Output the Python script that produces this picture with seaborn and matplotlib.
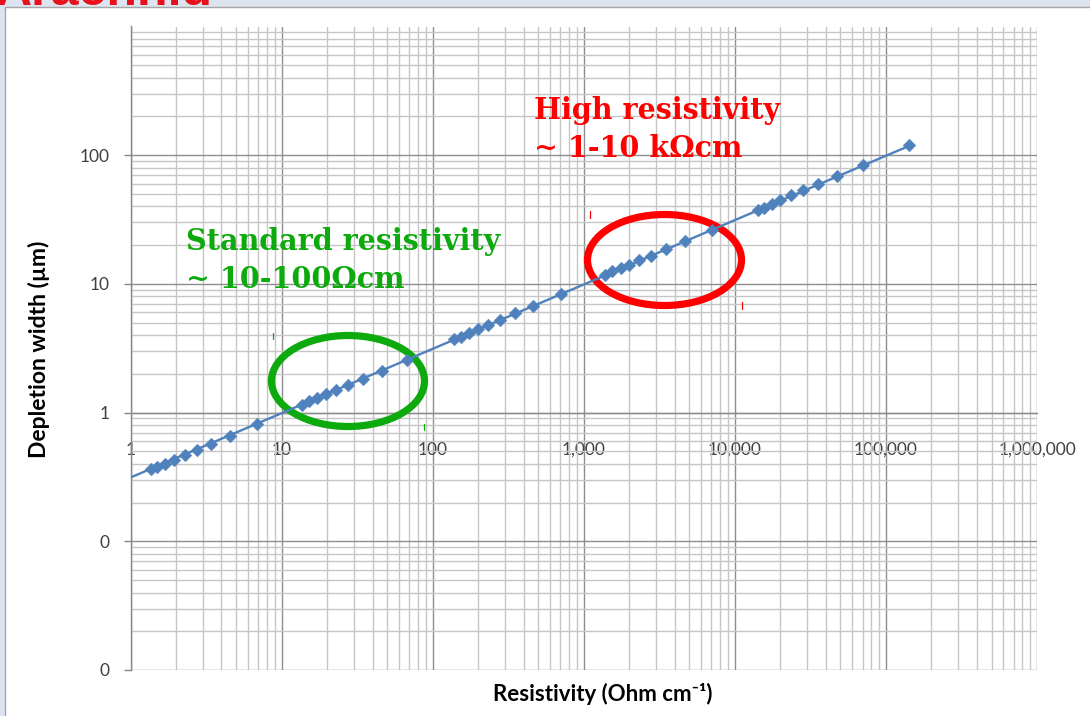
import numpy as np
import pandas as pd
import seaborn as sns
import matplotlib
matplotlib.use("Agg")
import matplotlib.pyplot as plt
from matplotlib.patches import Ellipse, Rectangle
from matplotlib.lines import Line2D
from matplotlib.ticker import FixedLocator, LogLocator, FuncFormatter, NullFormatter

# Resistivity (Ohm cm) and resulting depletion width (um)
resistivity = [1.36, 1.50, 1.69, 1.93, 2.28, 2.74, 3.39, 4.55, 6.83,
               13.7, 15.2, 17.2, 19.8, 22.9, 27.7, 34.7, 45.9, 67.3,
               138, 153, 174, 200, 232, 278, 349, 464, 704,
               1377, 1549, 1758, 2008, 2325, 2808, 3529, 4692, 7015,
               14130, 15630, 17500, 19960, 23490, 28080, 35300, 47140, 70800,
               142600]
depletion_um = [0.365, 0.381, 0.402, 0.432, 0.470, 0.508, 0.570, 0.661, 0.816,
                1.155, 1.225, 1.293, 1.39, 1.50, 1.63, 1.83, 2.12, 2.58,
                3.70, 3.87, 4.16, 4.43, 4.78, 5.23, 5.90, 6.77, 8.31,
                11.8, 12.5, 13.3, 14.1, 15.2, 16.6, 18.8, 21.7, 26.3,
                37.4, 39.0, 41.7, 45.1, 48.7, 53.3, 60.1, 68.9, 84.0,
                119.7]

# power-law trend line end points
trend_rho = [1, 142600]
trend_w = [0.313, 118.2]

x_ticks = [1, 10, 100, 1e3, 1e4, 1e5, 1e6]
y_ticks = [0.01, 0.1, 1, 10, 100]

df = pd.DataFrame({"rho": resistivity, "w": depletion_um})
trend = pd.DataFrame({"rho": trend_rho, "w": trend_w})

sns.set_theme(style="white")
plt.rcParams["font.family"] = ["Lato", "DejaVu Sans"]

W, H = 1090, 716
fig = plt.figure(figsize=(W / 100, H / 100), dpi=100)
fig.patch.set_facecolor("#DCE4F0")

def fx(px):
    return px / W

def fy(py):
    return (H - py) / H

# white slide panel
fig.add_artist(Rectangle((fx(5), -0.1), 1.2, fy(7) + 0.1, transform=fig.transFigure,
                         facecolor="white", edgecolor="#A6A6A6", lw=1.0, zorder=0))
# slide title, running off the top of the canvas
fig.text(fx(-4), fy(5), "Arachnid", color="#E8101A", fontsize=36, fontweight="bold",
         family=["Liberation Sans", "DejaVu Sans"], va="baseline", ha="left", zorder=1)

left, right, top, bottom = 130.5, 1037.0, 26.5, 670.0
ax = fig.add_axes([fx(left), fy(bottom), (right - left) / W, (bottom - top) / H])
ax.set_facecolor("none")
ax.set_xscale("log")
ax.set_yscale("log")
ax.set_xlim(1, 1e6)
ax.set_ylim(0.01, 1000)

blue = "#4F81BD"
sns.lineplot(data=trend, x="rho", y="w", ax=ax, color=blue, lw=1.7, zorder=4)
sns.scatterplot(data=df, x="rho", y="w", ax=ax, marker="D", s=42, color=blue,
                edgecolor=blue, linewidth=0.3, zorder=5)

fmt = FuncFormatter(lambda v, p: f"{v:,.0f}")
ax.xaxis.set_major_locator(FixedLocator(x_ticks))
ax.xaxis.set_minor_locator(LogLocator(base=10, subs=np.arange(2, 10), numticks=30))
ax.yaxis.set_major_locator(FixedLocator(y_ticks))
ax.yaxis.set_minor_locator(LogLocator(base=10, subs=np.arange(2, 10), numticks=30))
ax.xaxis.set_major_formatter(fmt)
ax.yaxis.set_major_formatter(fmt)
ax.xaxis.set_minor_formatter(NullFormatter())
ax.yaxis.set_minor_formatter(NullFormatter())

ax.set_axisbelow(True)
ax.grid(which="major", color="#8E8E8E", lw=1.0)
ax.grid(which="minor", color="#C6C6C6", lw=1.0)

for s in ("top", "right"):
    ax.spines[s].set_visible(False)
ax.spines["left"].set_color("#868686")
ax.spines["left"].set_linewidth(1.0)
ax.spines["bottom"].set_position(("data", 1))
ax.spines["bottom"].set_color("#8E8E8E")
ax.spines["bottom"].set_linewidth(1.0)

ax.tick_params(axis="y", which="major", direction="out", length=5, width=1,
               color="#868686", pad=10, labelsize=12.5, labelcolor="#404040", left=True)
ax.tick_params(axis="y", which="minor", length=0)
ax.tick_params(axis="x", which="both", length=0, pad=21, labelsize=12.5,
               labelcolor="#404040", bottom=True)

ax.set_xlabel("Resistivity (Ohm cm\u207b\u00b9)", fontsize=16, fontweight="bold",
              color="black")
ax.set_ylabel("Depletion width (\u00b5m)", fontsize=16.5, fontweight="bold", color="black")
ax.xaxis.label.set_va("center")
ax.yaxis.label.set_va("center")
ax.xaxis.set_label_coords((602.5 - left) / (right - left), (bottom - 694) / (bottom - top))
ax.yaxis.set_label_coords((39 - left) / (right - left), (bottom - 349) / (bottom - top))

# highlighted resistivity ranges
green = "#0CAA0C"
red = "#FF0000"
serif = ["DejaVu Serif"]
fsz = 20.6
fig.text(fx(186), fy(249.5), "Standard resistivity", color=green, fontsize=fsz,
         fontweight="bold", family=serif, va="baseline")
fig.text(fx(186), fy(288.3), "~ 10-100\u03a9cm", color=green, fontsize=fsz,
         fontweight="bold", family=serif, va="baseline")
fig.text(fx(534), fy(119.3), "High resistivity", color=red, fontsize=fsz,
         fontweight="bold", family=serif, va="baseline")
fig.text(fx(534), fy(156.7), "~ 1-10 k\u03a9cm", color=red, fontsize=fsz,
         fontweight="bold", family=serif, va="baseline")

for (cx, cy, ew, eh, col) in [(348, 381, 153, 91, green), (664.5, 260, 154, 91, red)]:
    ax.add_patch(Ellipse((fx(cx), fy(cy)), ew / W, eh / H, transform=fig.transFigure,
                         fill=False, edgecolor=col, lw=5.2, zorder=3, clip_on=False))

for (mx, y0, y1, col) in [(272.5, 333, 339, green), (424, 424, 430, green),
                          (590, 211.5, 218, red), (742, 302, 309, red)]:
    fig.add_artist(Line2D([fx(mx), fx(mx)], [fy(y0), fy(y1)], color=col, lw=0.9,
                          transform=fig.transFigure))

fig.savefig("out.png", dpi=100, facecolor=fig.get_facecolor())
